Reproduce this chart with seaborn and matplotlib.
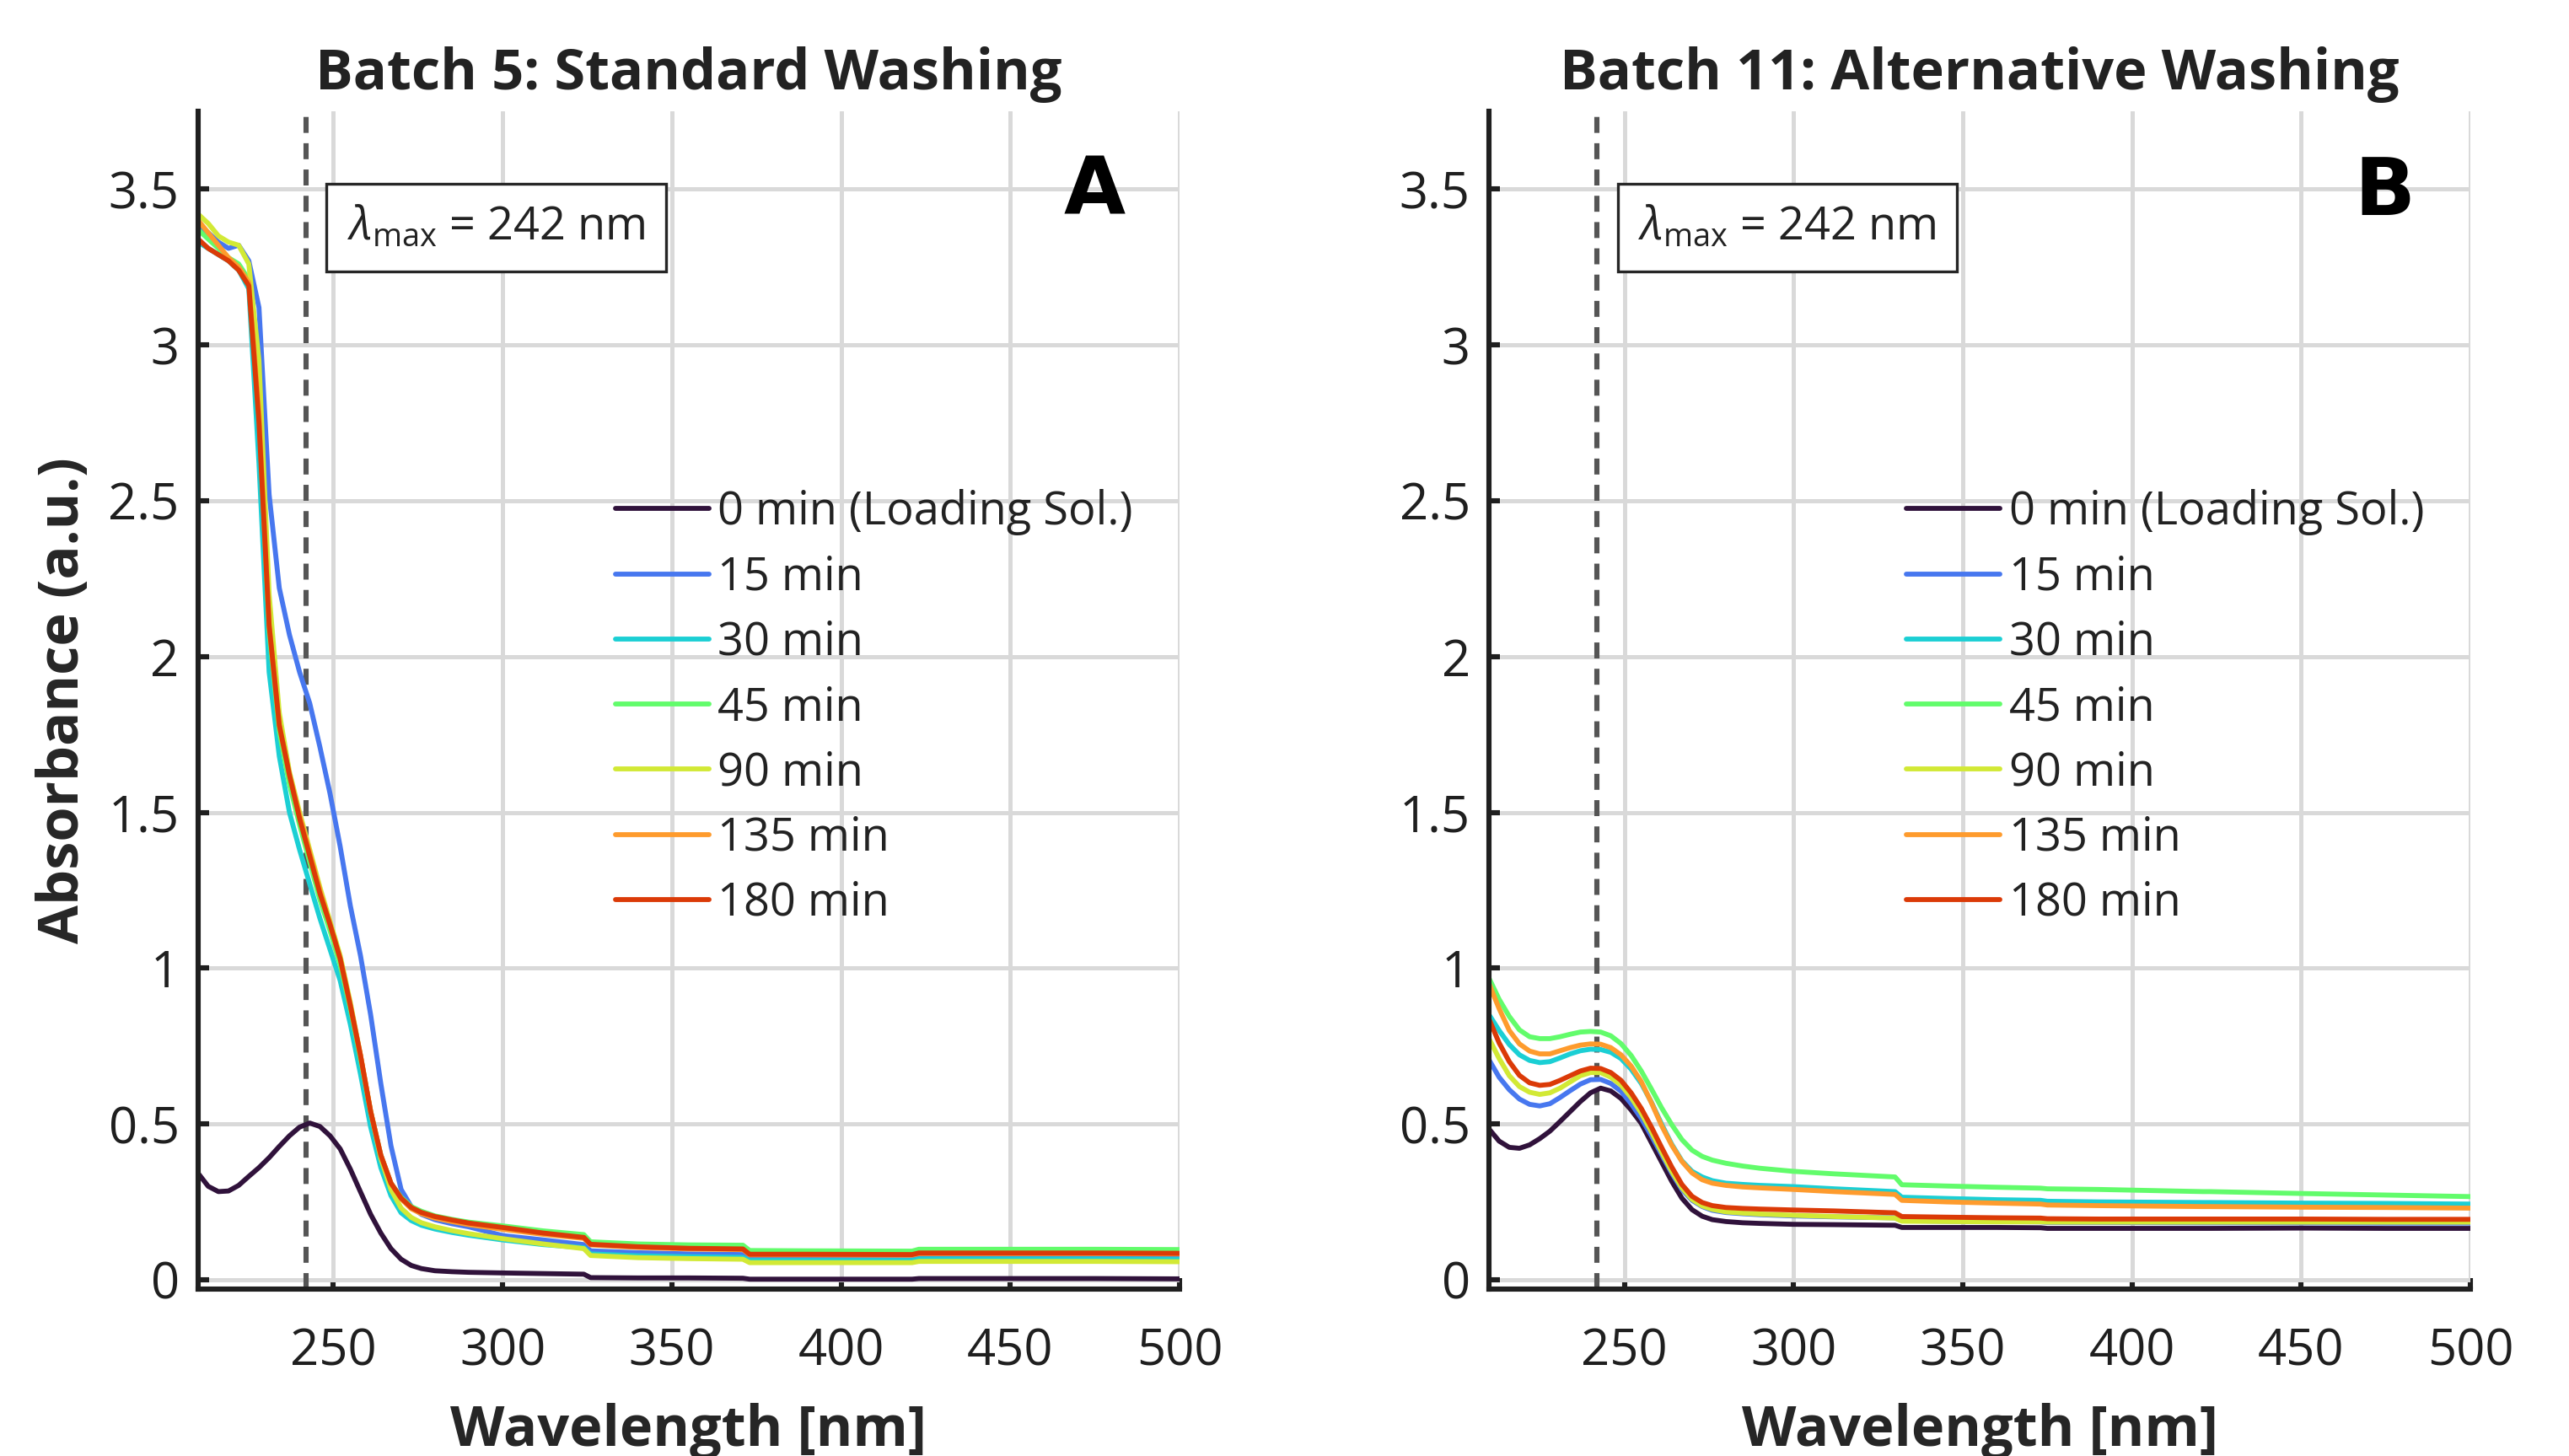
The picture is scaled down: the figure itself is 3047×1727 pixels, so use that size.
import numpy as np
import pandas as pd
import matplotlib
matplotlib.use("Agg")
import matplotlib.pyplot as plt
from matplotlib.lines import Line2D
from matplotlib import ticker
import seaborn as sns

# ---- data ----
labels = ['0 min (Loading Sol.)', '15 min', '30 min', '45 min', '90 min', '135 min', '180 min']
colors = ['#30123b', '#4777ef', '#1bcfd4', '#62fc6b', '#d2e935', '#fe9b2d', '#db3a07']

wl_a = [210, 213, 216, 219, 222, 225, 228, 231, 234, 237, 240, 243, 246, 249, 252, 255, 258, 261, 264, 267,
        270, 273, 276, 280, 285, 290, 300, 312, 324, 326, 340, 355, 371, 373, 390, 421, 423, 450, 475, 500]
wl_b = [210, 213, 216, 219, 222, 225, 228, 231, 234, 237, 240, 243, 246, 249, 252, 255, 258, 261, 264, 267,
        270, 273, 276, 280, 285, 290, 300, 312, 330, 332, 345, 360, 373, 375, 390, 421, 423, 450, 475, 500]

# Batch 5 (standard washing)
a_0 = [0.342, 0.300, 0.283, 0.285, 0.303, 0.332, 0.360, 0.392, 0.428, 0.462, 0.490, 0.503, 0.492, 0.462, 0.420,
       0.355, 0.282, 0.210, 0.150, 0.100, 0.066, 0.046, 0.036, 0.029, 0.026, 0.024, 0.022, 0.020, 0.018, 0.007,
       0.006, 0.006, 0.005, 0.002, 0.002, 0.002, 0.004, 0.004, 0.004, 0.003]
a_15 = [3.38, 3.36, 3.33, 3.31, 3.32, 3.27, 3.12, 2.52, 2.22, 2.07, 1.95, 1.85, 1.71, 1.56, 1.39,
        1.20, 1.04, 0.85, 0.63, 0.43, 0.29, 0.235, 0.21, 0.193, 0.180, 0.170, 0.142, 0.128, 0.113, 0.093,
        0.087, 0.083, 0.081, 0.068, 0.068, 0.068, 0.073, 0.073, 0.073, 0.072]
a_30 = [3.33, 3.31, 3.29, 3.27, 3.24, 3.18, 2.62, 1.95, 1.68, 1.50, 1.38, 1.27, 1.16, 1.06, 0.96,
        0.82, 0.66, 0.49, 0.36, 0.27, 0.215, 0.19, 0.175, 0.163, 0.152, 0.143, 0.128, 0.113, 0.103, 0.083,
        0.077, 0.074, 0.072, 0.062, 0.062, 0.062, 0.067, 0.067, 0.067, 0.066]
a_45 = [3.37, 3.34, 3.31, 3.28, 3.26, 3.21, 2.80, 2.08, 1.76, 1.59, 1.46, 1.34, 1.22, 1.12, 1.01,
        0.87, 0.71, 0.54, 0.40, 0.31, 0.265, 0.235, 0.22, 0.205, 0.194, 0.185, 0.173, 0.157, 0.145, 0.122,
        0.115, 0.112, 0.111, 0.094, 0.093, 0.092, 0.098, 0.098, 0.098, 0.097]
a_90 = [3.42, 3.39, 3.35, 3.33, 3.32, 3.26, 2.95, 2.20, 1.82, 1.63, 1.50, 1.38, 1.26, 1.15, 1.04,
        0.89, 0.72, 0.54, 0.39, 0.29, 0.23, 0.20, 0.183, 0.17, 0.158, 0.148, 0.132, 0.115, 0.100, 0.078,
        0.071, 0.068, 0.066, 0.055, 0.055, 0.055, 0.059, 0.059, 0.059, 0.058]
a_135 = [3.40, 3.36, 3.32, 3.28, 3.25, 3.20, 2.78, 2.10, 1.78, 1.62, 1.49, 1.37, 1.25, 1.14, 1.03,
         0.88, 0.72, 0.54, 0.40, 0.31, 0.26, 0.228, 0.212, 0.198, 0.187, 0.177, 0.162, 0.146, 0.133, 0.112,
         0.104, 0.099, 0.097, 0.080, 0.080, 0.079, 0.084, 0.084, 0.084, 0.083]
a_180 = [3.34, 3.31, 3.29, 3.27, 3.24, 3.19, 2.75, 2.10, 1.78, 1.62, 1.48, 1.36, 1.24, 1.14, 1.03,
         0.88, 0.72, 0.54, 0.40, 0.31, 0.262, 0.232, 0.216, 0.203, 0.192, 0.182, 0.168, 0.150, 0.136, 0.114,
         0.106, 0.101, 0.099, 0.082, 0.082, 0.081, 0.086, 0.086, 0.086, 0.085]

# Batch 11 (alternative washing)
b_0 = [0.484, 0.445, 0.425, 0.422, 0.433, 0.453, 0.477, 0.508, 0.540, 0.572, 0.600, 0.615, 0.606, 0.582, 0.545,
       0.502, 0.440, 0.378, 0.316, 0.262, 0.225, 0.204, 0.193, 0.187, 0.183, 0.181, 0.178, 0.177, 0.175, 0.168,
       0.168, 0.168, 0.167, 0.165, 0.165, 0.165, 0.165, 0.166, 0.165, 0.165]
b_15 = [0.706, 0.650, 0.610, 0.580, 0.563, 0.558, 0.565, 0.585, 0.607, 0.628, 0.642, 0.643, 0.630, 0.605, 0.565,
        0.518, 0.462, 0.402, 0.342, 0.290, 0.255, 0.235, 0.223, 0.216, 0.212, 0.209, 0.205, 0.202, 0.199, 0.190,
        0.188, 0.187, 0.186, 0.184, 0.184, 0.183, 0.183, 0.183, 0.182, 0.182]
b_30 = [0.851, 0.800, 0.755, 0.722, 0.704, 0.697, 0.700, 0.712, 0.725, 0.735, 0.740, 0.739, 0.730, 0.710, 0.676,
        0.630, 0.570, 0.500, 0.435, 0.382, 0.348, 0.330, 0.318, 0.310, 0.306, 0.303, 0.299, 0.292, 0.283, 0.265,
        0.261, 0.257, 0.255, 0.252, 0.250, 0.248, 0.248, 0.246, 0.245, 0.243]
b_45 = [0.968, 0.900, 0.845, 0.802, 0.780, 0.774, 0.774, 0.780, 0.788, 0.795, 0.797, 0.795, 0.783, 0.758, 0.720,
        0.670, 0.612, 0.552, 0.498, 0.450, 0.416, 0.396, 0.384, 0.374, 0.365, 0.358, 0.348, 0.340, 0.330, 0.305,
        0.301, 0.297, 0.294, 0.292, 0.290, 0.283, 0.283, 0.277, 0.272, 0.267]
b_90 = [0.774, 0.710, 0.655, 0.620, 0.602, 0.595, 0.600, 0.615, 0.635, 0.655, 0.665, 0.665, 0.650, 0.625, 0.585,
        0.535, 0.475, 0.410, 0.348, 0.295, 0.258, 0.237, 0.226, 0.218, 0.214, 0.211, 0.207, 0.203, 0.198, 0.188,
        0.187, 0.186, 0.186, 0.185, 0.185, 0.185, 0.185, 0.185, 0.185, 0.185]
b_135 = [0.950, 0.870, 0.800, 0.757, 0.734, 0.725, 0.725, 0.735, 0.745, 0.753, 0.757, 0.756, 0.745, 0.722, 0.686,
         0.636, 0.568, 0.495, 0.432, 0.380, 0.343, 0.321, 0.310, 0.303, 0.298, 0.295, 0.290, 0.283, 0.274, 0.255,
         0.250, 0.246, 0.243, 0.240, 0.238, 0.235, 0.235, 0.233, 0.232, 0.230]
b_180 = [0.837, 0.760, 0.700, 0.656, 0.632, 0.624, 0.627, 0.640, 0.655, 0.670, 0.679, 0.678, 0.665, 0.640, 0.600,
         0.550, 0.490, 0.425, 0.362, 0.306, 0.268, 0.248, 0.238, 0.232, 0.229, 0.227, 0.224, 0.221, 0.215, 0.203,
         0.201, 0.199, 0.198, 0.196, 0.195, 0.195, 0.195, 0.195, 0.194, 0.194]

lambda_max = 242
x_ticks = [250, 300, 350, 400, 450, 500]
y_ticks = [0, 0.5, 1, 1.5, 2, 2.5, 3, 3.5]

panels = [
    ('Batch 5: Standard Washing', 'A', wl_a, [a_0, a_15, a_30, a_45, a_90, a_135, a_180]),
    ('Batch 11: Alternative Washing', 'B', wl_b, [b_0, b_15, b_30, b_45, b_90, b_135, b_180]),
]

# ---- style ----
sns.set_theme(style="whitegrid", rc={
    'grid.color': '#d9d9d9',
    'grid.linewidth': 1.8,
    'axes.edgecolor': '#1f1f1f',
    'axes.linewidth': 2.2,
    'text.color': '#222222',
    'xtick.color': '#1f1f1f',
    'ytick.color': '#1f1f1f',
})
plt.rcParams['font.family'] = ['Open Sans', 'DejaVu Sans']
plt.rcParams['mathtext.fontset'] = 'custom'
plt.rcParams['mathtext.rm'] = 'Open Sans'
plt.rcParams['mathtext.it'] = 'Open Sans:italic'
plt.rcParams['mathtext.bf'] = 'Open Sans:bold'

fig = plt.figure(figsize=(3047 / 200, 1727 / 200), dpi=200)
fig.patch.set_facecolor('white')
ax_a = fig.add_axes([0.0771, 0.1146, 0.3820, 0.8090])
ax_b = fig.add_axes([0.5796, 0.1146, 0.3820, 0.8090])

for ax, (title, letter, wl, series) in zip([ax_a, ax_b], panels):
    frames = [pd.DataFrame({'wl': wl, 'abs': vals, 'time': lab}) for lab, vals in zip(labels, series)]
    df = pd.concat(frames, ignore_index=True)
    sns.lineplot(data=df, x='wl', y='abs', hue='time', hue_order=labels, palette=colors,
                 estimator=None, sort=False, linewidth=2.1, legend=False, ax=ax)

    ax.axvline(lambda_max, color='#555555', linestyle=(0, (3.1, 2.0)), linewidth=2.2, zorder=1)

    ax.set_xlim(210, 500)
    ax.set_ylim(-0.03, 3.75)
    ax.set_xticks(x_ticks)
    ax.set_yticks(y_ticks)
    ax.yaxis.set_major_formatter(ticker.FormatStrFormatter('%g'))
    ax.tick_params(axis='both', direction='in', length=4.8, width=2.2, labelsize=21.5,
                   bottom=True, left=True)
    ax.tick_params(axis='x', pad=16)
    ax.tick_params(axis='y', pad=8)
    ax.spines['top'].set_visible(False)
    ax.spines['right'].set_visible(False)
    ax.grid(True, color='#d9d9d9', linewidth=1.8)
    ax.set_axisbelow(True)

    ax.set_title(title, fontsize=24, fontweight='bold', pad=9.5)
    ax.set_xlabel('Wavelength [nm]', fontsize=24, fontweight='bold', labelpad=11)
    ax.set_ylabel('')

    ax.text(0.152, 0.901, r'$\lambda_{\mathrm{max}}$ = 242 nm', transform=ax.transAxes,
            fontsize=19.5, va='center', ha='left',
            bbox=dict(boxstyle='square,pad=0.45', fc='white', ec='#262626', lw=1.2))
    ax.text(0.913, 0.9306, letter, transform=ax.transAxes, fontsize=34, fontweight='heavy',
            family='DejaVu Sans', color='black', ha='center', va='center')

    handles = [Line2D([], [], color=c, linewidth=2.1) for c in colors]
    ax.legend(handles, labels, loc='upper left', bbox_to_anchor=(0.425, 0.679), frameon=False,
              fontsize=19.5, handlelength=2.05, handletextpad=0.2, labelspacing=0.41,
              borderpad=0, borderaxespad=0)

ax_a.set_ylabel('Absorbance (a.u.)', fontsize=24, fontweight='bold', labelpad=7)

fig.savefig('out.png', dpi=200, facecolor='white')
